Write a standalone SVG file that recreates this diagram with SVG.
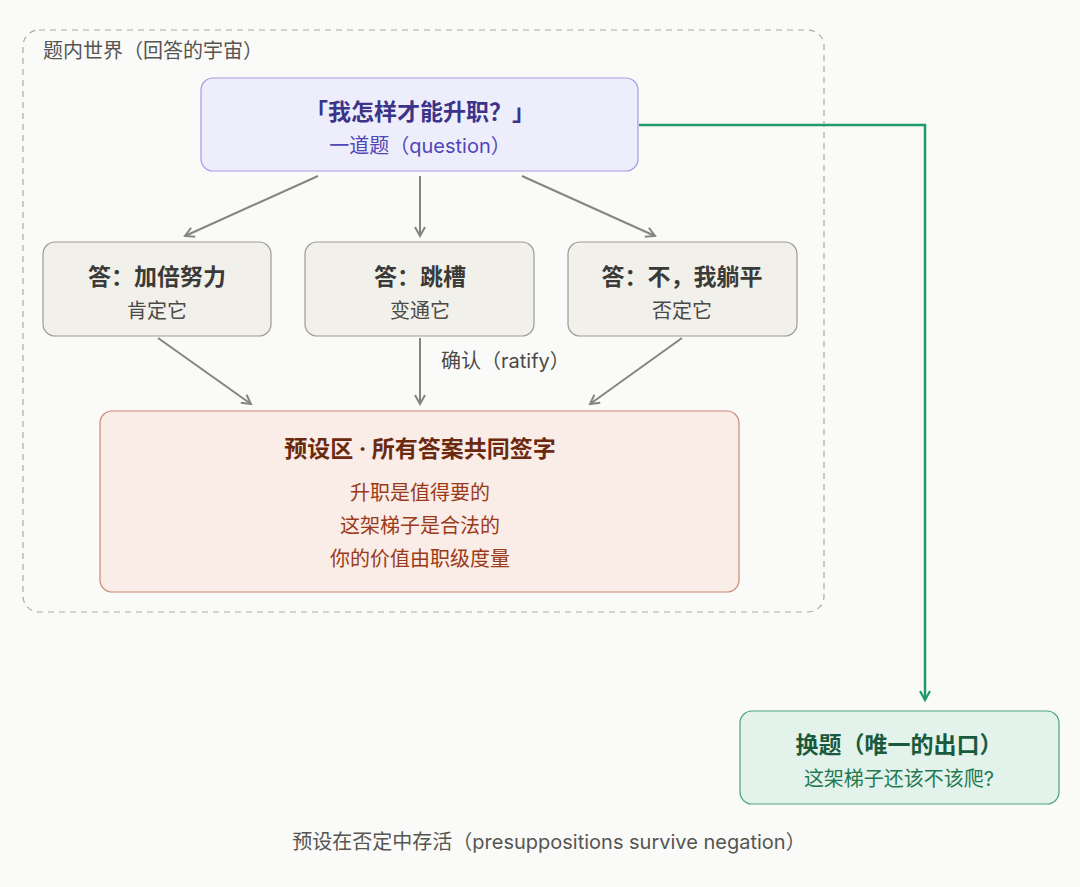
<svg xmlns="http://www.w3.org/2000/svg" width="1080" height="887" viewBox="0 0 1080 887">
<defs>
<style>
text{font-family:"Inter","Noto Sans CJK SC",sans-serif;}
.title{font-size:23px;font-weight:700;text-anchor:middle;}
.sub{font-size:20px;text-anchor:middle;}
.ans rect{fill:#F2F0EA;stroke:#9C9A92;stroke-width:1.2;}
.ans .title{fill:#3a3a38;}
.ans .sub{fill:#4a4a48;}
.gray{stroke:#858580;stroke-width:2;fill:none;marker-end:url(#ag);}
</style>
<marker id="ag" viewBox="0 0 12 12" refX="10" refY="6" markerWidth="12" markerHeight="12" markerUnits="userSpaceOnUse" orient="auto">
<path d="M1,1 L10,6 L1,11" fill="none" stroke="#858580" stroke-width="2"/>
</marker>
<marker id="agr" viewBox="0 0 12 12" refX="10" refY="6" markerWidth="12" markerHeight="12" markerUnits="userSpaceOnUse" orient="auto">
<path d="M1,1 L10,6 L1,11" fill="none" stroke="#1E9A6C" stroke-width="2.2"/>
</marker>
</defs>
<rect width="1080" height="887" fill="#FAFAF8"/>
<g id="world">
<rect x="23" y="30" width="801" height="582" rx="16" fill="none" stroke="#AAAAA6" stroke-width="1.2" stroke-dasharray="6 5"/>
<text x="43" y="58" font-size="20" fill="#555552">题内世界（回答的宇宙）</text>
</g>
<g id="connectors">
<path class="gray" d="M318,176 L185,236"/>
<path class="gray" d="M420,176 L420,236"/>
<path class="gray" d="M522,176 L655,236"/>
<path class="gray" d="M158,338 L251,404"/>
<path class="gray" d="M420,338 L420,404"/>
<path class="gray" d="M682,338 L590,404"/>
<text x="441" y="368" font-size="20" fill="#4a4a48">确认（ratify）</text>
<path d="M639,125 L925,125 L925,700" fill="none" stroke="#1E9A6C" stroke-width="2.5" marker-end="url(#agr)"/>
</g>
<g id="question">
<rect x="201" y="78" width="437" height="93" rx="12" fill="#EEEDFC" stroke="#A39CE6" stroke-width="1.2"/>
<text class="title" x="420" y="120" fill="#3B3488">「我怎样才能升职？」</text>
<text class="sub" x="420" y="153" fill="#5046B8">一道题（question）</text>
</g>
<g id="ans1" class="ans">
<rect x="43" y="242" width="228" height="94" rx="12"/>
<text class="title" x="157" y="285">答：加倍努力</text>
<text class="sub" x="157" y="318">肯定它</text>
</g>
<g id="ans2" class="ans">
<rect x="305" y="242" width="229" height="94" rx="12"/>
<text class="title" x="420" y="285">答：跳槽</text>
<text class="sub" x="420" y="318">变通它</text>
</g>
<g id="ans3" class="ans">
<rect x="568" y="242" width="229" height="94" rx="12"/>
<text class="title" x="682" y="285">答：不，我躺平</text>
<text class="sub" x="682" y="318">否定它</text>
</g>
<g id="presup">
<rect x="100" y="411" width="639" height="181" rx="12" fill="#FAECE6" stroke="#C98A78" stroke-width="1.2"/>
<text class="title" x="420" y="457" fill="#6B2A10">预设区 · 所有答案共同签字</text>
<text class="sub" x="420" y="500" fill="#9A3A18">升职是值得要的</text>
<text class="sub" x="420" y="533" fill="#9A3A18">这架梯子是合法的</text>
<text class="sub" x="420" y="566" fill="#9A3A18">你的价值由职级度量</text>
</g>
<g id="exit">
<rect x="740" y="711" width="319" height="93" rx="12" fill="#E3F3EC" stroke="#4FA27E" stroke-width="1.2"/>
<text class="title" x="899" y="753" fill="#1A5A3C">换题（唯一的出口）</text>
<text class="sub" x="899" y="786" fill="#1F7A52">这架梯子还该不该爬?</text>
</g>
<text x="549" y="849" font-size="20" text-anchor="middle" fill="#555552">预设在否定中存活（presuppositions survive negation）</text>
</svg>
